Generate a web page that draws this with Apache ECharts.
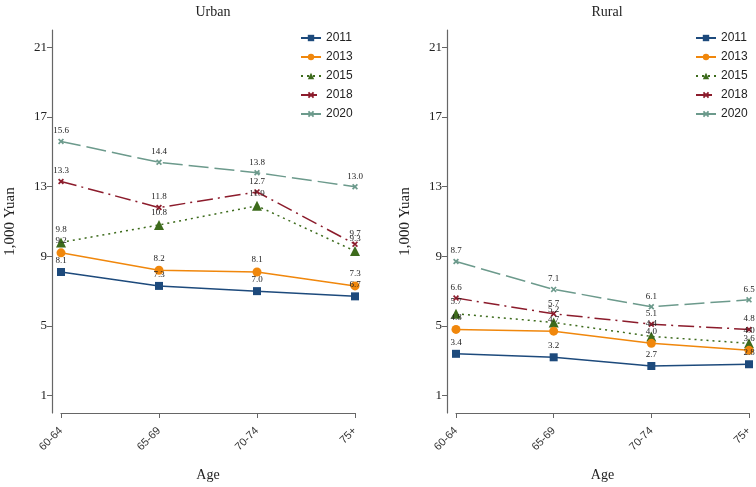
<!DOCTYPE html>
<html>
<head>
<meta charset="utf-8">
<script src="https://cdn.jsdelivr.net/npm/echarts@6/dist/echarts.min.js"></script>
<style>
  html, body { margin: 0; padding: 0; background: #fff; }
  #chart { width: 756px; height: 487px; }
</style>
</head>
<body>
<div id="chart"></div>
<script>
const ages = ['60-64', '65-69', '70-74', '75+'];
const years = ['2011', '2013', '2015', '2018', '2020'];
const yTicks = [1, 5, 9, 13, 17, 21];

// urban, 1,000 yuan
const urban2011 = [8.1, 7.3, 7.0, 6.7];
const urban2013 = [9.2, 8.2, 8.1, 7.3];
const urban2015 = [9.8, 10.8, 11.9, 9.3];
const urban2018 = [13.3, 11.8, 12.7, 9.7];
const urban2020 = [15.6, 14.4, 13.8, 13.0];

// rural
const rural2011 = [3.4, 3.2, 2.7, 2.8];
const rural2013 = [4.8, 4.7, 4.0, 3.6];
const rural2015 = [5.7, 5.2, 4.4, 4.0];
const rural2018 = [6.6, 5.7, 5.1, 4.8];
const rural2020 = [8.7, 7.1, 6.1, 6.5];

const urban = [urban2011, urban2013, urban2015, urban2018, urban2020];
const rural = [rural2011, rural2013, rural2015, rural2018, rural2020];

const serif = '"Liberation Serif", "DejaVu Serif", serif';
const sans = '"Liberation Sans", Arial, sans-serif';
const crossPath = 'path://M2,0 L5,3 L8,0 L10,2 L7,5 L10,8 L8,10 L5,7 L2,10 L0,8 L3,5 L0,2 Z';

const styles = [
  { color: '#1d4a7c', symbol: 'rect', size: 8, type: 'solid' },
  { color: '#f0870c', symbol: 'circle', size: 9, type: 'solid' },
  { color: '#3d6b1c', symbol: 'triangle', size: 10, type: [2, 4] },
  { color: '#8c1c2c', symbol: crossPath, size: 6, type: [16, 5, 2, 5] },
  { color: '#6c9a8c', symbol: crossPath, size: 6, type: [20, 6] }
];

function makeSeries(values, panel) {
  return values.map((data, i) => ({
    name: years[i],
    type: 'line',
    xAxisIndex: panel,
    yAxisIndex: panel,
    data: data,
    symbol: styles[i].symbol,
    symbolSize: styles[i].size,
    showAllSymbol: true,
    z: 10 - i,
    lineStyle: { color: styles[i].color, width: 1.5, type: styles[i].type },
    itemStyle: { color: styles[i].color },
    label: {
      show: true,
      position: 'top',
      distance: 3,
      fontFamily: serif,
      fontSize: 9,
      color: '#222',
      formatter: p => p.value.toFixed(1)
    },
    emphasis: { disabled: true }
  }));
}

function xAxis(panel) {
  return {
    type: 'category',
    gridIndex: panel,
    data: ages,
    boundaryGap: false,
    offset: 10,
    name: 'Age',
    nameLocation: 'middle',
    nameGap: 45,
    nameTextStyle: { fontFamily: serif, fontSize: 14, color: '#222' },
    axisLine: { lineStyle: { color: '#666', width: 1.2 } },
    axisTick: { alignWithLabel: true, length: 5, lineStyle: { color: '#666' } },
    axisLabel: { rotate: 45, fontFamily: sans, fontSize: 11, color: '#333', margin: 6 },
    splitLine: { show: false }
  };
}

function yAxis(panel) {
  return {
    type: 'value',
    gridIndex: panel,
    min: 0,
    max: 22,
    offset: 9,
    name: '1,000 Yuan',
    nameLocation: 'middle',
    nameGap: 34,
    nameTextStyle: { fontFamily: serif, fontSize: 15, color: '#222' },
    axisLine: { show: true, lineStyle: { color: '#666', width: 1.2 } },
    axisTick: { show: true, length: 5, customValues: yTicks, lineStyle: { color: '#666' } },
    axisLabel: { fontFamily: serif, fontSize: 13, color: '#222', margin: 5, customValues: yTicks },
    splitLine: { show: false }
  };
}

function legend(panel, left) {
  return {
    orient: 'vertical',
    left: left,
    top: 26,
    itemWidth: 20,
    itemHeight: 8,
    itemGap: 5,
    data: years,
    textStyle: { fontFamily: sans, fontSize: 12, color: '#222', lineHeight: 14 },
    selectedMode: false
  };
}

const chart = echarts.init(document.getElementById('chart'));
chart.setOption({
  animation: false,
  backgroundColor: '#fff',
  title: [
    { text: 'Urban', left: 208, top: 0, textAlign: 'center',
      textStyle: { fontFamily: serif, fontSize: 14, fontWeight: 'normal', color: '#222' } },
    { text: 'Rural', left: 602, top: 0, textAlign: 'center',
      textStyle: { fontFamily: serif, fontSize: 14, fontWeight: 'normal', color: '#222' } }
  ],
  legend: [legend(0, 295), legend(1, 690)],
  grid: [
    { left: 61, right: 401, top: 30, bottom: 69 },
    { left: 456, right: 7, top: 30, bottom: 69 }
  ],
  xAxis: [xAxis(0), xAxis(1)],
  yAxis: [yAxis(0), yAxis(1)],
  series: makeSeries(urban, 0).concat(makeSeries(rural, 1))
});
</script>
</body>
</html>
